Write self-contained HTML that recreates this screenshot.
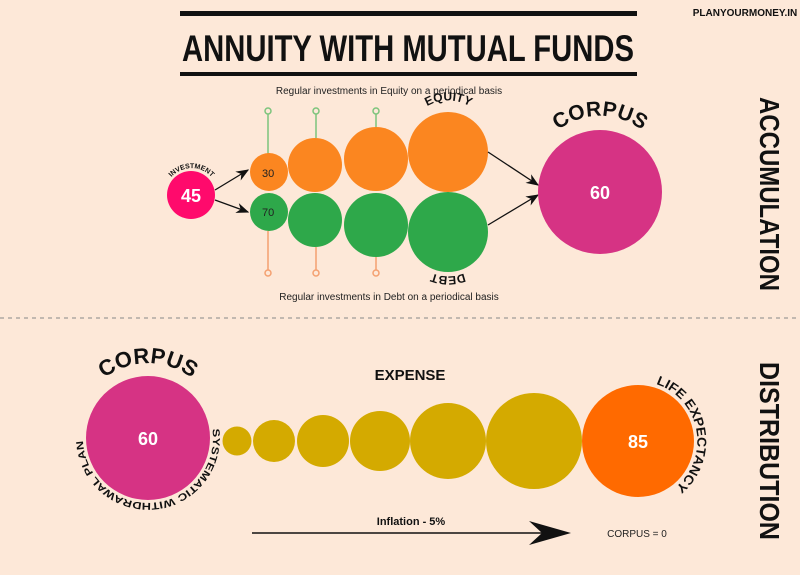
<!DOCTYPE html>
<html><head><meta charset="utf-8"><style>
html,body{margin:0;padding:0;background:#fde8d8;}
svg{display:block}
text{font-family:"Liberation Sans",sans-serif;}
.b{font-weight:bold}
</style></head><body>
<svg width="800" height="575" viewBox="0 0 800 575" xmlns="http://www.w3.org/2000/svg">
<rect width="800" height="575" fill="#fde8d8"/>
<defs>
<marker id="ar" markerWidth="10" markerHeight="8" refX="9" refY="4" orient="auto"><path d="M0,0 L10,4 L0,8 L3,4z" fill="#111"/></marker>
<path id="invArc" d="M165,190 A27,27 0 0 1 218,190"/>
<path id="eqArc" d="M413,120 A42,42 0 0 1 484,120"/>
<path id="debtArc" d="M472,269 A43,43 0 0 1 424,269"/>
<path id="corpArc1" d="M548,140 A68,68 0 0 1 652,140"/>
<path id="corpArc2" d="M92,390 A72,72 0 0 1 204,390"/>
<path id="swpArc" d="M212.4,429 A65,65 0 1 1 85.2,421.2"/>
<path id="lifeArc" d="M656,384 A60,60 0 0 1 672,490"/>
</defs>
<!-- title -->
<rect x="180" y="11" width="457" height="5" fill="#111"/>
<rect x="180" y="72" width="457" height="4" fill="#111"/>
<text x="408" y="61" text-anchor="middle" class="b" font-size="37" fill="#111" textLength="452" lengthAdjust="spacingAndGlyphs">ANNUITY WITH MUTUAL FUNDS</text>
<text x="745" y="16" text-anchor="middle" class="b" font-size="10" fill="#111">PLANYOURMONEY.IN</text>
<text transform="translate(760,97) rotate(90)" class="b" font-size="28" fill="#111" textLength="194" lengthAdjust="spacingAndGlyphs">ACCUMULATION</text>
<text transform="translate(760,362) rotate(90)" class="b" font-size="28" fill="#111" textLength="178" lengthAdjust="spacingAndGlyphs">DISTRIBUTION</text>
<line x1="0" y1="318" x2="800" y2="318" stroke="#888" stroke-dasharray="4,4"/>
<!-- top section -->
<text x="389" y="94" text-anchor="middle" font-size="10" fill="#222">Regular investments in Equity on a periodical basis</text>
<text x="389" y="300" text-anchor="middle" font-size="10" fill="#222">Regular investments in Debt on a periodical basis</text>
<g stroke="#7cc47c" stroke-width="1.5" fill="none"><line x1="268" y1="114" x2="268" y2="154"/><line x1="316" y1="114" x2="316" y2="138"/><line x1="376" y1="114" x2="376" y2="128"/>
<circle cx="268" cy="111" r="3"/><circle cx="316" cy="111" r="3"/><circle cx="376" cy="111" r="3"/></g>
<g stroke="#f4a070" stroke-width="1.5" fill="none"><line x1="268" y1="231" x2="268" y2="270"/><line x1="316" y1="247" x2="316" y2="270"/><line x1="376" y1="257" x2="376" y2="270"/>
<circle cx="268" cy="273" r="3"/><circle cx="316" cy="273" r="3"/><circle cx="376" cy="273" r="3"/></g>
<g fill="#fb8620"><circle cx="269" cy="172" r="19"/><circle cx="315" cy="165" r="27"/><circle cx="376" cy="159" r="32"/><circle cx="448" cy="152" r="40"/></g>
<g fill="#2ea84a"><circle cx="269" cy="212" r="19"/><circle cx="315" cy="220" r="27"/><circle cx="376" cy="225" r="32"/><circle cx="448" cy="232" r="40"/></g>
<text x="262" y="177" font-size="11" fill="#222">30</text>
<text x="262" y="216" font-size="11" fill="#222">70</text>
<circle cx="191" cy="195" r="24" fill="#ff0a6c"/>
<text x="191" y="202" text-anchor="middle" class="b" font-size="18" fill="#fff">45</text>
<text class="b" font-size="7" fill="#111"><textPath href="#invArc" startOffset="50%" text-anchor="middle">INVESTMENT</textPath></text>
<text class="b" font-size="12" fill="#111"><textPath href="#eqArc" startOffset="50%" text-anchor="middle">EQUITY</textPath></text>
<text class="b" font-size="12" fill="#111"><textPath href="#debtArc" startOffset="50%" text-anchor="middle">DEBT</textPath></text>
<g stroke="#111" stroke-width="1.3" marker-end="url(#ar)"><line x1="215" y1="190" x2="248" y2="170"/><line x1="215" y1="200" x2="248" y2="212"/><line x1="488" y1="152" x2="538" y2="185"/><line x1="488" y1="225" x2="538" y2="195"/></g>
<circle cx="600" cy="192" r="62" fill="#d63384"/>
<text x="600" y="199" text-anchor="middle" class="b" font-size="18" fill="#fff">60</text>
<text class="b" font-size="21" fill="#111"><textPath href="#corpArc1" startOffset="50%" text-anchor="middle">CORPUS</textPath></text>
<!-- bottom -->
<circle cx="148" cy="438" r="62" fill="#d63384"/>
<text x="148" y="445" text-anchor="middle" class="b" font-size="18" fill="#fff">60</text>
<text class="b" font-size="22" fill="#111"><textPath href="#corpArc2" startOffset="50%" text-anchor="middle">CORPUS</textPath></text>
<text class="b" font-size="10" fill="#111"><textPath href="#swpArc" startOffset="0" textLength="210" lengthAdjust="spacingAndGlyphs">SYSTEMATIC WITHDRAWAL PLAN</textPath></text>
<g fill="#d4aa00"><circle cx="237" cy="441" r="14.5"/><circle cx="274" cy="441" r="21"/><circle cx="323" cy="441" r="26"/><circle cx="380" cy="441" r="30"/><circle cx="448" cy="441" r="38"/><circle cx="534" cy="441" r="48"/></g>
<circle cx="638" cy="441" r="56" fill="#ff6a00"/>
<text x="638" y="448" text-anchor="middle" class="b" font-size="18" fill="#fff">85</text>
<text class="b" font-size="13" fill="#111"><textPath href="#lifeArc" textLength="128" lengthAdjust="spacingAndGlyphs">LIFE EXPECTANCY</textPath></text>
<text x="410" y="380" text-anchor="middle" class="b" font-size="15" fill="#111">EXPENSE</text>
<text x="411" y="525" text-anchor="middle" class="b" font-size="11" fill="#111">Inflation - 5%</text>
<line x1="252" y1="533" x2="545" y2="533" stroke="#111" stroke-width="1.5"/>
<path d="M529,521 L571,533 L529,545 L542,533z" fill="#111"/>
<text x="637" y="537" text-anchor="middle" font-size="10" fill="#222">CORPUS = 0</text>
</svg>
</body></html>
